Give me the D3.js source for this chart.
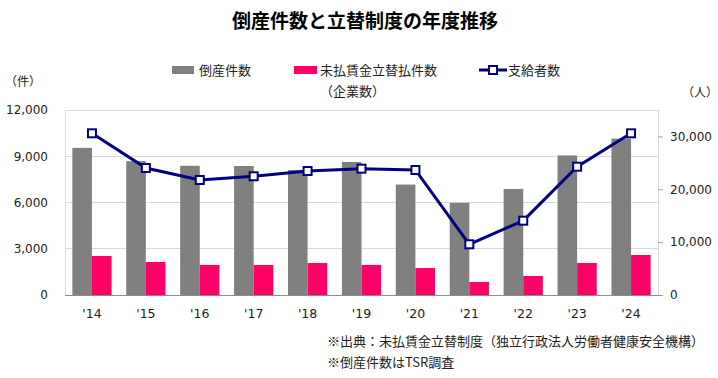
<!DOCTYPE html>
<html><head><meta charset="utf-8">
<script src="https://cdn.jsdelivr.net/npm/d3@7"></script>
<style>
body{margin:0;background:#fff;}
text{font-family:"Noto Sans CJK JP","Noto Sans",sans-serif;fill:#222;}
</style></head>
<body>
<svg id="c" width="718" height="378"></svg>
<script>
const years = ["'14","'15","'16","'17","'18","'19","'20","'21","'22","'23","'24"];
const bankruptcies = [9543,8684,8381,8367,8111,8631,7163,5980,6880,9053,10144];
const advancePayments = [2530,2140,1950,1950,2075,1950,1750,845,1235,2075,2595];
const recipients = [30590,24030,21760,22460,23460,23900,23650,9590,14060,24270,30590];
const leftTicks = [0,3000,6000,9000,12000];
const rightTicks = [0,10000,20000,30000];
const seriesNames = ["倒産件数","未払賃金立替払件数","支給者数"];

const svg = d3.select("#c");
const L=65, R=658, T=110, B=295;
const x0 = d3.scaleBand().domain(years).range([L,R]).padding(0);
const x1 = d3.scaleBand().domain(["a","b"]).range([0,x0.bandwidth()]).paddingInner(0).paddingOuter(0.375);
const yL = d3.scaleLinear().domain([0,12000]).range([B,T]);
const yR = d3.scaleLinear().domain([0,35000]).range([B,T]);
const fmt = d3.format(",");
const numFont = '"DejaVu Sans",Verdana,sans-serif';

// title
svg.append("text").attr("x",365).attr("y",28).attr("text-anchor","middle")
  .style("font-size","19px").style("font-weight","bold").style("fill","#000")
  .text("倒産件数と立替制度の年度推移");

// gridlines
svg.append("g").selectAll("line").data(leftTicks.slice(1)).join("line")
  .attr("x1",L).attr("x2",R).attr("y1",d=>yL(d)).attr("y2",d=>yL(d))
  .attr("stroke","#d9d9d9").attr("stroke-width",1).attr("shape-rendering","crispEdges");
// side borders
[L,R].forEach(xx=>svg.append("line").attr("x1",xx).attr("x2",xx).attr("y1",T).attr("y2",B)
  .attr("stroke","#d9d9d9").attr("shape-rendering","crispEdges"));

// left axis labels
const gl = svg.append("g").attr("transform",`translate(48,0)`)
  .call(d3.axisLeft(yL).tickValues(leftTicks).tickFormat(fmt).tickSize(0).tickPadding(0));
gl.select(".domain").remove();
gl.selectAll("text").style("font-size","12px").style("font-family",numFont).attr("fill","#222");

// right axis
const gr = svg.append("g").attr("transform",`translate(${R},0)`)
  .call(d3.axisRight(yR).tickValues(rightTicks).tickFormat(fmt).tickSize(5).tickPadding(7));
gr.select(".domain").remove();
gr.selectAll("line").attr("stroke","#a6a6a6");
gr.selectAll("text").style("font-size","12px").style("font-family",numFont).attr("fill","#222");

// bars
const bg = svg.append("g");
bg.selectAll("rect.bk").data(years).join("rect")
  .attr("x",d=>x0(d)+x1("a")).attr("width",x1.bandwidth())
  .attr("y",(d,i)=>yL(bankruptcies[i])).attr("height",(d,i)=>B-yL(bankruptcies[i]))
  .attr("fill","#808080");
bg.selectAll("rect.pay").data(years).join("rect")
  .attr("x",d=>x0(d)+x1("b")).attr("width",x1.bandwidth())
  .attr("y",(d,i)=>yL(advancePayments[i])).attr("height",(d,i)=>B-yL(advancePayments[i]))
  .attr("fill","#ff0066");

// bottom axis
const gx = svg.append("g").attr("transform",`translate(0,${B})`)
  .call(d3.axisBottom(x0).tickSize(0).tickPadding(14));
gx.select(".domain").attr("stroke","#8c8c8c").attr("d",`M${L},0.5H${R+3}`);
gx.selectAll("text").style("font-size","12.5px").style("font-family",numFont).attr("fill","#222");

// line
const cx = d=>x0(d)+x0.bandwidth()/2;
svg.append("path").datum(years)
  .attr("d",d3.line().x(cx).y((d,i)=>yR(recipients[i])))
  .attr("fill","none").attr("stroke","#000080").attr("stroke-width",3);
svg.append("g").selectAll("rect").data(years).join("rect")
  .attr("x",d=>cx(d)-4).attr("y",(d,i)=>yR(recipients[i])-4).attr("width",8).attr("height",8)
  .attr("fill","#fff").attr("stroke","#000080").attr("stroke-width",2);

// unit labels
svg.append("text").attr("x",5).attr("y",86).style("font-size","12px").text("（件）");
svg.append("text").attr("x",682).attr("y",97).style("font-size","12px").text("（人）");

// legend
const lg = svg.append("g");
lg.append("rect").attr("x",172).attr("y",66).attr("width",22).attr("height",8).attr("fill","#808080");
lg.append("text").attr("x",199).attr("y",75).style("font-size","13px").text(seriesNames[0]);
lg.append("rect").attr("x",294).attr("y",66).attr("width",23).attr("height",8).attr("fill","#ff0066");
lg.append("text").attr("x",320).attr("y",75).style("font-size","13px").text(seriesNames[1]);
lg.append("text").attr("x",320).attr("y",96).style("font-size","13px").text("（企業数）");
lg.append("line").attr("x1",479).attr("x2",507).attr("y1",70).attr("y2",70).attr("stroke","#000080").attr("stroke-width",3);
lg.append("rect").attr("x",489).attr("y",66).attr("width",8).attr("height",8).attr("fill","#fff").attr("stroke","#000080").attr("stroke-width",2);
lg.append("text").attr("x",508).attr("y",75).style("font-size","13px").text(seriesNames[2]);

// footnotes
svg.append("text").attr("x",327).attr("y",346).style("font-size","13px").text("※出典：未払賃金立替制度（独立行政法人労働者健康安全機構）");
svg.append("text").attr("x",327).attr("y",367).style("font-size","13px").text("※倒産件数はTSR調査");
</script>
</body></html>
